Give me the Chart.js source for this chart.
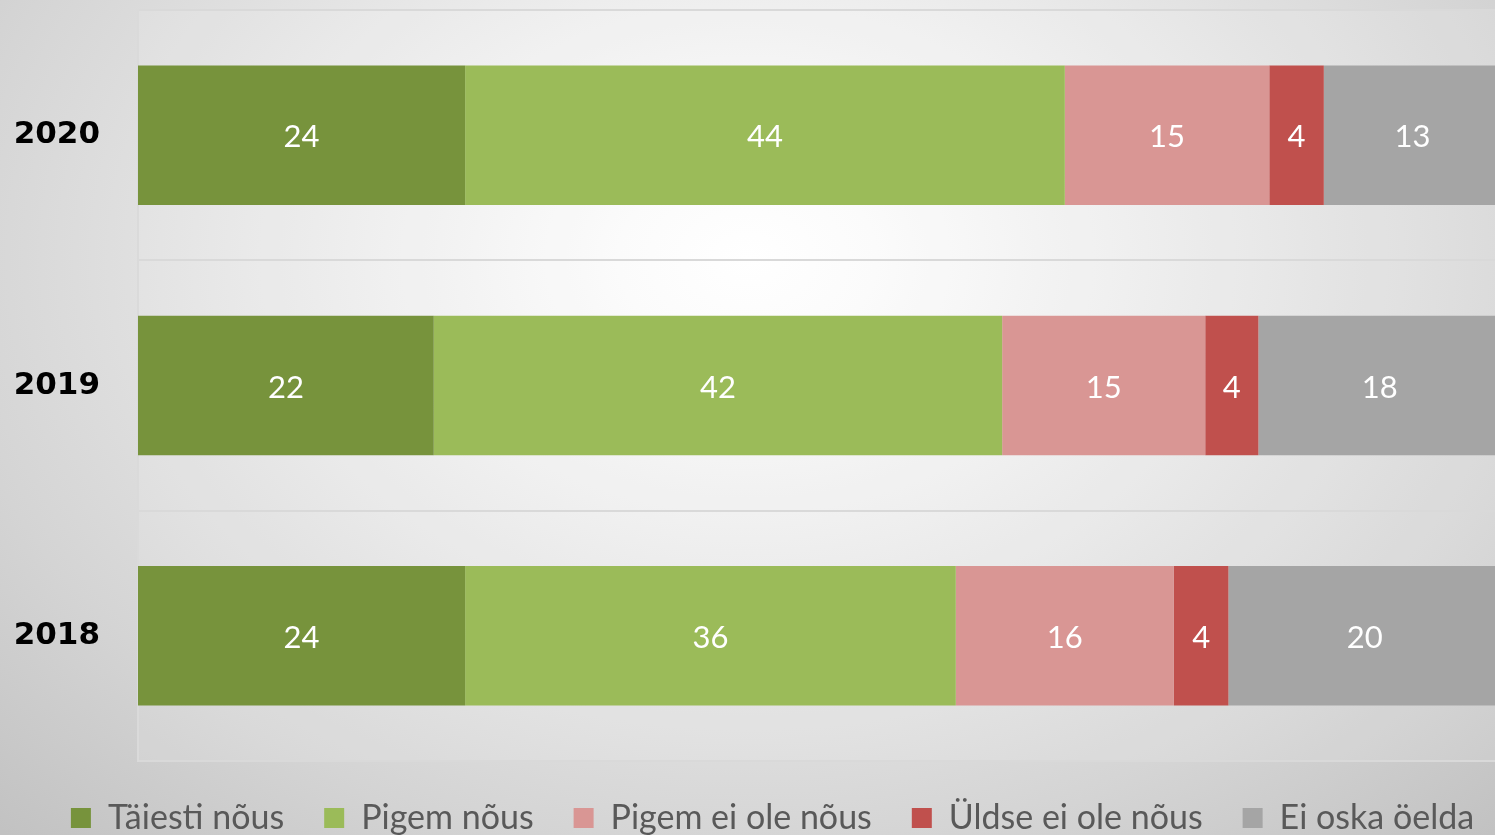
<!DOCTYPE html>
<html>
<head>
<meta charset="utf-8">
<script src="https://cdn.jsdelivr.net/npm/chart.js@4.4.1/dist/chart.umd.min.js"></script>
<style>
  html, body { margin: 0; padding: 0; overflow: hidden; width: 1495px; height: 835px; }
  body { background: radial-gradient(ellipse 72% 95% at 50% 31%, #ffffff 0%, #fbfbfb 12%, #e9e9e9 42%, #d4d4d4 75%, #c2c2c2 100%); }
  #wrap { position: absolute; left: 0; top: 0; width: 1501px; height: 845px; }
</style>
</head>
<body>
<div id="wrap"><canvas id="chart" width="1501" height="845"></canvas></div>
<script>
  'use strict';

  const years = ['2020', '2019', '2018'];
  const seriesNames = ['Täiesti nõus', 'Pigem nõus', 'Pigem ei ole nõus', 'Üldse ei ole nõus', 'Ei oska öelda'];
  const taiestiNous = [24, 21.7, 24];
  const pigemNous = [44, 41.7, 36];
  const pigemEiOleNous = [15, 14.9, 16];
  const uldseEiOleNous = [4, 3.9, 4];
  const eiOskaOelda = [13, 17.8, 20];
  const colors = ['#77933c', '#9bbb59', '#d99694', '#c0504d', '#a5a5a5'];

  const TEXT_FONT = 'Lato, "Open Sans", sans-serif';

  // white value labels centred on every segment
  const barLabels = {
    id: 'barLabels',
    afterDatasetsDraw(chart) {
      const ctx = chart.ctx;
      ctx.save();
      ctx.fillStyle = '#ffffff';
      ctx.font = '31px ' + TEXT_FONT;
      ctx.textAlign = 'center';
      ctx.textBaseline = 'middle';
      chart.data.datasets.forEach(function (ds, i) {
        chart.getDatasetMeta(i).data.forEach(function (bar, j) {
          const c = bar.getCenterPoint();
          ctx.fillText(String(Math.round(ds.data[j])), c.x, c.y + 2);
        });
      });
      ctx.restore();
    },
  };

  // faint lighter plot area
  const plotFill = {
    id: 'plotFill',
    beforeDraw(chart) {
      const { left, top, right, bottom } = chart.chartArea;
      const ctx = chart.ctx;
      ctx.save();
      ctx.fillStyle = 'rgba(255,255,255,0.12)';
      ctx.fillRect(left, top, right - left, bottom - top);
      ctx.restore();
    },
  };

  // the legend in the original sits a little right of centre
  const legendShift = {
    id: 'legendShift',
    afterLayout(chart) {
      if (!chart.legend) return;
      chart.legend.left += 22;
      chart.legend.right += 22;
    },
  };

  const seriesData = [taiestiNous, pigemNous, pigemEiOleNous, uldseEiOleNous, eiOskaOelda];

  new Chart(document.getElementById('chart'), {
    type: 'bar',
    data: {
      labels: years,
      datasets: seriesNames.map(function (name, i) {
        return {
          label: name,
          data: seriesData[i],
          backgroundColor: colors[i],
          borderWidth: 0,
          barPercentage: 1,
          categoryPercentage: 0.557,
        };
      }),
    },
    options: {
      indexAxis: 'y',
      responsive: false,
      animation: false,
      layout: { padding: { top: 10, left: 0, right: 0, bottom: 0 } },
      plugins: {
        tooltip: { enabled: false },
        legend: {
          position: 'bottom',
          labels: {
            color: '#595959',
            font: { family: TEXT_FONT, size: 34 },
            boxWidth: 20,
            boxHeight: 20,
            padding: 40,
          },
        },
      },
      scales: {
        x: {
          stacked: true,
          display: false,
          min: 0,
          max: 100,
        },
        y: {
          stacked: true,
          afterFit(scale) {
            scale.width = 138;
            scale.paddingTop = 0;
            scale.paddingBottom = 0;
          },
          grid: { offset: true, color: '#d9d9d9', lineWidth: 2, drawTicks: false },
          border: { display: true, color: '#dadada', width: 2 },
          ticks: {
            color: '#000000',
            padding: 38,
            font: { family: '"DejaVu Sans", sans-serif', size: 31, weight: 'bold' },
          },
        },
      },
    },
    plugins: [plotFill, legendShift, barLabels],
  });
</script>
</body>
</html>
